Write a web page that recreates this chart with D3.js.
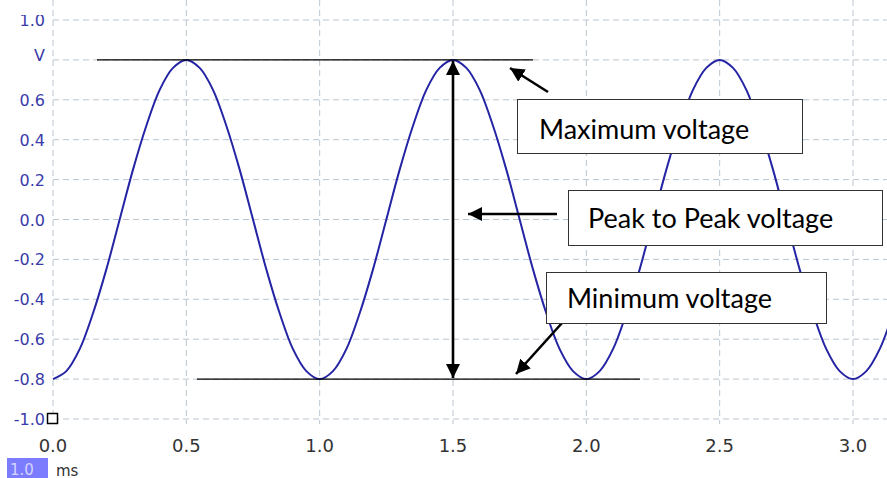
<!DOCTYPE html>
<html>
  <head>
    <script src="https://cdnjs.cloudflare.com/ajax/libs/d3/7.8.5/d3.min.js"></script>
<style>
  body { margin: 0; background: #fff; }
  svg { display: block; }
</style>
  </head>
  <body>
    <div id="vis"></div>
    <script type="text/javascript">

        // samples (time in ms, voltage in V)
        const timeMs = [0.00, 0.05, 0.10, 0.15, 0.20, 0.25, 0.30, 0.35, 0.40, 0.45,
            0.50, 0.55, 0.60, 0.65, 0.70, 0.75, 0.80, 0.85, 0.90, 0.95,
            1.00, 1.05, 1.10, 1.15, 1.20, 1.25, 1.30, 1.35, 1.40, 1.45,
            1.50, 1.55, 1.60, 1.65, 1.70, 1.75, 1.80, 1.85, 1.90, 1.95,
            2.00, 2.05, 2.10, 2.15, 2.20, 2.25, 2.30, 2.35, 2.40, 2.45,
            2.50, 2.55, 2.60, 2.65, 2.70, 2.75, 2.80, 2.85, 2.90, 2.95,
            3.00, 3.05, 3.10, 3.15];
        const voltage = [-0.80, -0.76, -0.65, -0.47, -0.25, 0.00, 0.25, 0.47, 0.65, 0.76,
            0.80, 0.76, 0.65, 0.47, 0.25, 0.00, -0.25, -0.47, -0.65, -0.76,
            -0.80, -0.76, -0.65, -0.47, -0.25, 0.00, 0.25, 0.47, 0.65, 0.76,
            0.80, 0.76, 0.65, 0.47, 0.25, 0.00, -0.25, -0.47, -0.65, -0.76,
            -0.80, -0.76, -0.65, -0.47, -0.25, 0.00, 0.25, 0.47, 0.65, 0.76,
            0.80, 0.76, 0.65, 0.47, 0.25, 0.00, -0.25, -0.47, -0.65, -0.76,
            -0.80, -0.76, -0.65, -0.47];

        const xTicks = [0.0, 0.5, 1.0, 1.5, 2.0, 2.5, 3.0];
        const yTicks = [1.0, 0.8, 0.6, 0.4, 0.2, 0.0, -0.2, -0.4, -0.6, -0.8, -1.0];
        const yTickLabels = ["1.0", "V", "0.6", "0.4", "0.2", "0.0", "-0.2", "-0.4", "-0.6", "-0.8", "-1.0"];

        const vMax = 0.8;
        const vMin = -0.8;
        const peakTime = 1.5;

        const width = 887;
        const height = 478;
        const svg = d3.select("#vis").append("svg")
            .attr("width", width)
            .attr("height", height);

        var x = d3.scaleLinear().domain([0, 3]).range([53, 853]);
        var y = d3.scaleLinear().domain([-1, 1]).range([419, 20]);

        const gridColor = "#b9c6d0";
        const labelFont = "'DejaVu Sans', sans-serif";
        const noteFont = "Lato, 'Open Sans', sans-serif";

        svg.append("defs").html(`
          <clipPath id="ylabClip"><rect x="0" y="15" width="53" height="420"></rect></clipPath>
          <marker id="head" viewBox="0 0 10 10" refX="10" refY="5" markerWidth="5.5" markerHeight="5.5"
              markerUnits="strokeWidth" orient="auto-start-reverse">
            <path d="M0,0 L10,5 L0,10 Z" fill="#000"></path>
          </marker>`);

        // grid
        svg.append("g").selectAll("line")
            .data(yTicks)
            .join("line")
            .attr("x1", x(0)).attr("x2", width)
            .attr("y1", d => y(d)).attr("y2", d => y(d))
            .attr("stroke", gridColor)
            .attr("stroke-dasharray", "6,4");
        svg.append("g").selectAll("line")
            .data(xTicks)
            .join("line")
            .attr("x1", d => x(d)).attr("x2", d => x(d))
            .attr("y1", 0).attr("y2", 424)
            .attr("stroke", gridColor)
            .attr("stroke-dasharray", "6,4");

        // y labels
        svg.append("g").attr("clip-path", "url(#ylabClip)")
            .selectAll("text")
            .data(yTicks)
            .join("text")
            .attr("x", 45)
            .attr("y", (d, i) => yTickLabels[i] === "V" ? y(d) + 1 : y(d) + 6)
            .attr("text-anchor", "end")
            .attr("font-family", labelFont)
            .attr("font-size", 16)
            .attr("fill", "#3a3aaa")
            .text((d, i) => yTickLabels[i]);

        // x labels
        svg.append("g").selectAll("text")
            .data(xTicks)
            .join("text")
            .attr("x", d => x(d))
            .attr("y", 452)
            .attr("text-anchor", "middle")
            .attr("font-family", labelFont)
            .attr("font-size", 18)
            .attr("fill", "#333")
            .text(d => d.toFixed(1));

        // trace
        svg.append("path")
            .datum(timeMs.map((t, i) => [t, voltage[i]]))
            .attr("fill", "none")
            .attr("stroke", "#2424a4")
            .attr("stroke-width", 2)
            .attr("d", d3.line()
                .x(d => x(d[0]))
                .y(d => y(d[1]))
                .curve(d3.curveCatmullRom));

        // small marker at origin corner
        svg.append("rect")
            .attr("x", 47.5).attr("y", 413.5)
            .attr("width", 10).attr("height", 10)
            .attr("fill", "#fff")
            .attr("stroke", "#000")
            .attr("stroke-width", 1.5);

        // units badge
        svg.append("rect")
            .attr("x", 7).attr("y", 458)
            .attr("width", 41).attr("height", 22)
            .attr("fill", "#7c7cff");
        svg.append("text")
            .attr("x", 10).attr("y", 475)
            .attr("font-family", labelFont)
            .attr("font-size", 15)
            .attr("fill", "#d4d4ff")
            .text("1.0");
        svg.append("text")
            .attr("x", 56).attr("y", 476)
            .attr("font-family", labelFont)
            .attr("font-size", 15)
            .attr("fill", "#333")
            .text("ms");

        // max / min reference lines
        const ann = svg.append("g");
        ann.append("line")
            .attr("x1", 97).attr("x2", 533)
            .attr("y1", y(vMax)).attr("y2", y(vMax))
            .attr("stroke", "#000").attr("stroke-width", 1.3);
        ann.append("line")
            .attr("x1", 197).attr("x2", 640)
            .attr("y1", y(vMin)).attr("y2", y(vMin))
            .attr("stroke", "#000").attr("stroke-width", 1.3);

        // peak to peak double arrow
        ann.append("line")
            .attr("x1", x(peakTime)).attr("x2", x(peakTime))
            .attr("y1", y(vMax) + 1).attr("y2", y(vMin) - 1)
            .attr("stroke", "#000").attr("stroke-width", 2.6)
            .attr("marker-start", "url(#head)")
            .attr("marker-end", "url(#head)");

        const notes = [
            {text: "Maximum voltage", box: [517, 99, 285, 54], tx: 539, ty: 139, from: [548, 92], to: [510, 68]},
            {text: "Peak to Peak voltage", box: [568, 190, 314, 55], tx: 588, ty: 228, from: [557, 214], to: [468, 214]},
            {text: "Minimum voltage", box: [546, 272, 280, 51], tx: 567, ty: 308, from: [562, 323], to: [516, 374]}
        ];

        notes.forEach(n => {
            ann.append("line")
                .attr("x1", n.from[0]).attr("y1", n.from[1])
                .attr("x2", n.to[0]).attr("y2", n.to[1])
                .attr("stroke", "#000").attr("stroke-width", 2.6)
                .attr("marker-end", "url(#head)");
            ann.append("rect")
                .attr("x", n.box[0] + 0.5).attr("y", n.box[1] + 0.5)
                .attr("width", n.box[2]).attr("height", n.box[3])
                .attr("fill", "#fff")
                .attr("stroke", "#333")
                .attr("stroke-width", 1);
            ann.append("text")
                .attr("x", n.tx).attr("y", n.ty)
                .attr("font-family", noteFont)
                .attr("font-size", 27)
                .attr("fill", "#000")
                .text(n.text);
        });

    </script>
  </body>
</html>
